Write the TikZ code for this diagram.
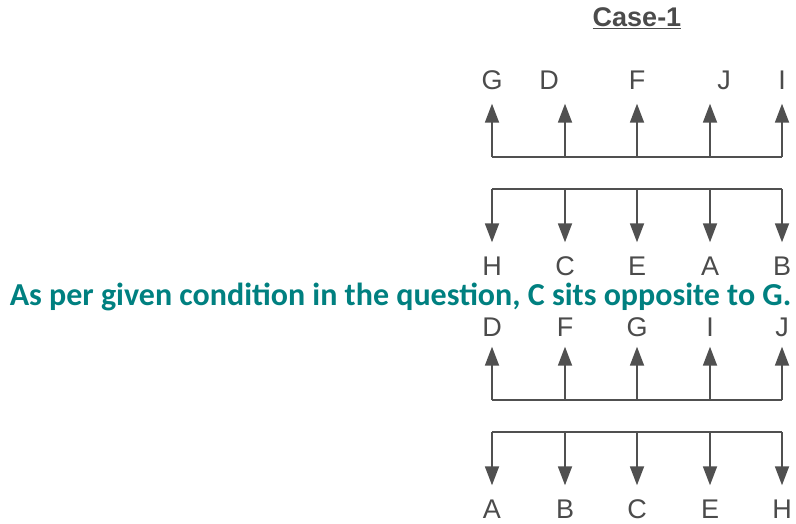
\documentclass[tikz,border=0pt]{standalone}
\usepackage{fontspec}
\setmainfont{Liberation Sans}
\newfontfamily\notefont{Carlito}
\usetikzlibrary{arrows.meta, positioning}
\definecolor{noteteal}{RGB}{0,128,128}
\definecolor{lettergray}{RGB}{75,75,75}
\definecolor{linegray}{RGB}{80,80,80}

\begin{document}
\begin{tikzpicture}[x=1pt, y=-1pt,
    letter/.style={font=\fontsize{27}{27}\selectfont, text=lettergray, inner sep=0pt, text height=19pt, text depth=0pt},
    arr/.style={draw=linegray, line width=1.8pt, -{Triangle[length=19pt,width=14pt]}, shorten >=14pt},
    bar/.style={draw=linegray, line width=1.8pt}]
    \useasboundingbox (0,0) rectangle (796,523);

    \node[font=\bfseries\fontsize{27}{27}\selectfont, text=lettergray] (title) at (637,18) {\underline{Case-1}};

    % upper pair of rows
    \node[letter] (tG) at (492,80) {G};
    \node[letter] (tD) at (549,80) {D};
    \node[letter] (tF) at (637,80) {F};
    \node[letter] (tJ) at (724,80) {J};
    \node[letter] (tI) at (782,80) {I};

    \coordinate (p1) at (492,157);
    \coordinate (p2) at (565,157);
    \coordinate (p3) at (637,157);
    \coordinate (p4) at (710,157);
    \coordinate (p5) at (782,157);

    \coordinate (q1) at (492,189);
    \coordinate (q2) at (565,189);
    \coordinate (q3) at (637,189);
    \coordinate (q4) at (710,189);
    \coordinate (q5) at (782,189);

    \node[letter] (bH) at (492,266) {H};
    \node[letter] (bC) at (565,266) {C};
    \node[letter] (bE) at (637,266) {E};
    \node[letter] (bA) at (710,266) {A};
    \node[letter] (bB) at (782,266) {B};

    \path[bar] (p1) -- (p5)
               (q1) -- (q5);
    \foreach \i/\up/\dn in {1/tG/bH, 2/tD/bC, 3/tF/bE, 4/tJ/bA, 5/tI/bB} {
        \draw[arr] (p\i) -- (p\i |- \up.south);
        \draw[arr] (q\i) -- (q\i |- \dn.north);
    }

    \node[font=\notefont\bfseries\fontsize{32}{32}\selectfont, text=noteteal, inner sep=0pt] (note) at (400.5,297) {As per given condition in the question, C sits opposite to G.};

    % lower pair of rows
    \node[letter] (uD) at (492,327) {D};
    \node[letter] (uF) at (565,327) {F};
    \node[letter] (uG) at (637,327) {G};
    \node[letter] (uI) at (710,327) {I};
    \node[letter] (uJ) at (782,327) {J};

    \coordinate (r1) at (492,400);
    \coordinate (r2) at (565,400);
    \coordinate (r3) at (637,400);
    \coordinate (r4) at (710,400);
    \coordinate (r5) at (782,400);

    \coordinate (s1) at (492,432);
    \coordinate (s2) at (565,432);
    \coordinate (s3) at (637,432);
    \coordinate (s4) at (710,432);
    \coordinate (s5) at (782,432);

    \node[letter] (lA) at (492,509) {A};
    \node[letter] (lB) at (565,509) {B};
    \node[letter] (lC) at (637,509) {C};
    \node[letter] (lE) at (710,509) {E};
    \node[letter] (lH) at (782,509) {H};

    \path[bar] (r1) -- (r5)
               (s1) -- (s5);
    \foreach \i/\up/\dn in {1/uD/lA, 2/uF/lB, 3/uG/lC, 4/uI/lE, 5/uJ/lH} {
        \draw[arr, shorten >=10pt] (r\i) -- (r\i |- \up.south);
        \draw[arr] (s\i) -- (s\i |- \dn.north);
    }
\end{tikzpicture}
\end{document}
